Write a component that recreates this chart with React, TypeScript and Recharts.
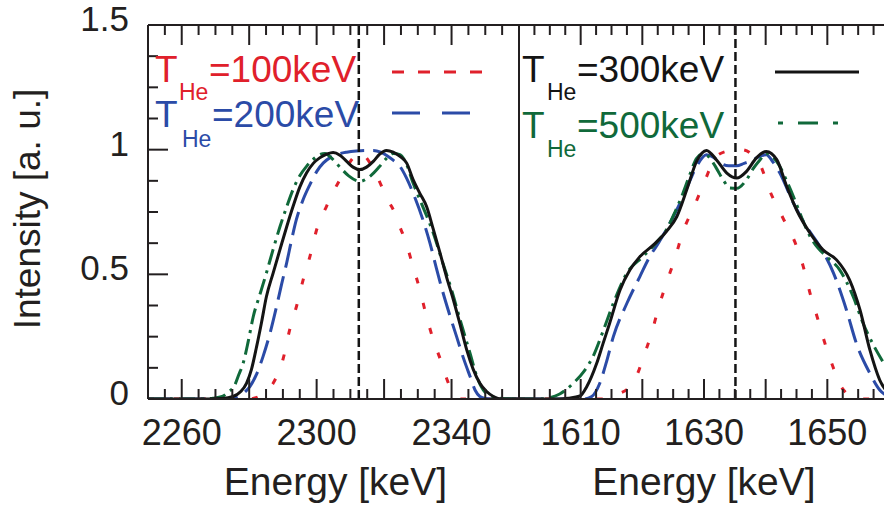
import React from 'react';
import { LineChart, Line, XAxis, YAxis, ReferenceLine } from 'recharts';

const FONT = '"Liberation Sans", Arial, Helvetica, sans-serif';
const INK = '#231f20';
const RED = '#e0202b';
const BLUE = '#2b4ba7';
const GREEN = '#10693a';
const BLACK = '#141414';

// ---------- Left panel (~2313 keV line) ----------
const left100E = [2250, 2280, 2282, 2284.5, 2287.1, 2290.1, 2292, 2294, 2296, 2298, 2300, 2302.9, 2304.9, 2306.9, 2308.9, 2310.8, 2312.5, 2314.3, 2315.8, 2317.7, 2319.7, 2321.5, 2323.2, 2324.7, 2326.2, 2328.6, 2330.6, 2332.6, 2334.6, 2337.1, 2338.6, 2340, 2341.5, 2343, 2360];
const left100I = [0, 0, 0.005, 0.025, 0.063, 0.163, 0.277, 0.37, 0.478, 0.571, 0.679, 0.772, 0.83, 0.88, 0.93, 0.967, 0.99, 0.975, 0.947, 0.9, 0.84, 0.79, 0.746, 0.69, 0.639, 0.531, 0.438, 0.33, 0.237, 0.143, 0.08, 0.036, 0.012, 0, 0];

const left200E = [2250, 2274, 2277, 2278.5, 2280.2, 2282.2, 2284.1, 2286.1, 2288.1, 2289.6, 2291.1, 2292.6, 2294, 2296, 2298, 2300, 2302, 2304, 2305.9, 2308.9, 2311.8, 2314.3, 2316.8, 2319, 2321, 2322.7, 2324.7, 2326.7, 2328.6, 2331.6, 2333.6, 2335.5, 2337.5, 2339.5, 2341.5, 2343.5, 2345.5, 2347, 2348.4, 2350, 2352, 2360];
const left200I = [0, 0, 0.01, 0.025, 0.05, 0.1, 0.17, 0.26, 0.37, 0.46, 0.545, 0.64, 0.72, 0.8, 0.86, 0.912, 0.947, 0.968, 0.98, 0.99, 0.995, 0.997, 0.997, 0.99, 0.975, 0.958, 0.933, 0.885, 0.826, 0.715, 0.625, 0.525, 0.425, 0.335, 0.25, 0.165, 0.09, 0.035, 0.01, 0.002, 0, 0];

const left300E = [2250, 2268, 2272, 2275.2, 2277.5, 2279.2, 2280.7, 2282.2, 2283.7, 2285.1, 2287.1, 2289.1, 2291.1, 2293, 2295, 2297, 2299, 2300.9, 2303, 2304.9, 2306.9, 2308.9, 2310.8, 2312.8, 2314.8, 2316.8, 2318.7, 2320.7, 2322.7, 2324.7, 2326.7, 2328.6, 2330.6, 2332.6, 2334.6, 2336.6, 2338.5, 2340.5, 2342.5, 2344.5, 2346.4, 2348.4, 2350.4, 2352.4, 2355, 2360];
const left300I = [0, 0, 0.002, 0.01, 0.03, 0.063, 0.12, 0.21, 0.31, 0.41, 0.505, 0.598, 0.69, 0.772, 0.85, 0.906, 0.945, 0.967, 0.982, 0.989, 0.978, 0.953, 0.93, 0.92, 0.93, 0.953, 0.982, 0.997, 0.99, 0.973, 0.946, 0.88, 0.825, 0.772, 0.68, 0.585, 0.49, 0.4, 0.3, 0.197, 0.12, 0.063, 0.03, 0.01, 0, 0];

const left500E = [2250, 2266, 2269.3, 2272, 2274, 2275.5, 2277, 2278.2, 2279.7, 2281.2, 2283.2, 2285.1, 2287.1, 2289.1, 2291.1, 2293, 2295, 2297, 2298.9, 2300.9, 2302.5, 2304.5, 2306.9, 2309.5, 2312.8, 2316, 2318.5, 2320.7, 2322.7, 2324.7, 2326.7, 2328.6, 2330.6, 2332.6, 2334.6, 2337.3, 2340, 2342.7, 2345.5, 2347.5, 2349.4, 2352, 2355, 2360];
const left500I = [0, 0, 0.003, 0.01, 0.03, 0.05, 0.1, 0.143, 0.23, 0.33, 0.42, 0.505, 0.6, 0.69, 0.77, 0.84, 0.895, 0.933, 0.96, 0.98, 0.985, 0.965, 0.93, 0.895, 0.873, 0.895, 0.93, 0.965, 0.985, 0.98, 0.94, 0.866, 0.8, 0.735, 0.665, 0.55, 0.438, 0.31, 0.183, 0.09, 0.036, 0.01, 0.002, 0];

// ---------- Right panel (~1635 keV line) ----------
const right100E = [1600, 1613.5, 1614.2, 1616, 1618, 1619.2, 1620.1, 1621.5, 1622.6, 1623.9, 1625.3, 1626.6, 1628.3, 1630.1, 1632, 1634, 1636.1, 1637.8, 1639.1, 1640.7, 1642.8, 1644.7, 1646.1, 1647.2, 1648.5, 1649.6, 1651, 1652, 1653.1, 1654, 1655, 1660];
const right100I = [0, 0, 0.005, 0.02, 0.05, 0.1, 0.163, 0.264, 0.364, 0.465, 0.565, 0.672, 0.766, 0.873, 0.973, 0.995, 1.0, 0.98, 0.94, 0.833, 0.726, 0.632, 0.531, 0.424, 0.317, 0.224, 0.123, 0.06, 0.023, 0.005, 0, 0];

const right200E = [1600, 1610.5, 1611.8, 1613.1, 1614.2, 1615.3, 1617.5, 1619.6, 1621.2, 1622.6, 1623.9, 1625.3, 1626.6, 1627.7, 1628.8, 1630.4, 1631.5, 1632.6, 1634, 1635.3, 1636.5, 1637.4, 1638.8, 1640.1, 1641.2, 1642.3, 1644.5, 1646.6, 1648.8, 1651, 1653.1, 1654.7, 1656.9, 1658.5, 1660];
const right200I = [0, 0, 0.01, 0.063, 0.15, 0.25, 0.384, 0.491, 0.571, 0.625, 0.679, 0.745, 0.812, 0.875, 0.933, 0.98, 0.97, 0.947, 0.935, 0.935, 0.945, 0.953, 0.97, 0.98, 0.95, 0.906, 0.786, 0.692, 0.612, 0.505, 0.357, 0.224, 0.103, 0.036, 0.008];

const right300E = [1600, 1606.5, 1608, 1609.9, 1611, 1612.6, 1613.6, 1614.7, 1616.4, 1618, 1619.6, 1621.8, 1623.9, 1625.6, 1627.2, 1628.8, 1630.4, 1632, 1633.7, 1635.3, 1636.9, 1638.5, 1640.1, 1641.8, 1643.4, 1645, 1647.2, 1649.3, 1651.5, 1653.6, 1655.3, 1656.9, 1658.5, 1660];
const right300I = [0, 0, 0.003, 0.012, 0.05, 0.143, 0.22, 0.304, 0.438, 0.518, 0.571, 0.618, 0.672, 0.732, 0.839, 0.953, 0.997, 0.96, 0.906, 0.886, 0.913, 0.967, 0.993, 0.96, 0.853, 0.759, 0.665, 0.598, 0.558, 0.478, 0.357, 0.197, 0.076, 0.02];

const right500E = [1600, 1603, 1604.7, 1606.6, 1608.8, 1610.5, 1612, 1613.6, 1615.3, 1617.5, 1620.1, 1622, 1623.9, 1625.3, 1626.6, 1627.7, 1628.8, 1630, 1631, 1632, 1633.2, 1634.2, 1635.3, 1636.9, 1638, 1639.1, 1640.1, 1641.2, 1642.3, 1643.4, 1644.5, 1645.8, 1647.2, 1648.5, 1649.9, 1652, 1654.2, 1655.8, 1657.4, 1659, 1660];
const right500I = [0, 0, 0.004, 0.02, 0.063, 0.11, 0.17, 0.27, 0.384, 0.505, 0.571, 0.62, 0.679, 0.75, 0.826, 0.9, 0.965, 0.985, 0.965, 0.926, 0.875, 0.846, 0.845, 0.88, 0.925, 0.96, 0.985, 0.97, 0.933, 0.875, 0.812, 0.73, 0.652, 0.605, 0.571, 0.518, 0.41, 0.304, 0.22, 0.15, 0.11];

// axis settings
const leftDomain = [2250, 2360];
const rightDomain = [1600, 1660];
const leftTickLabels = [2260, 2300, 2340];
const rightTickLabels = [1610, 1630, 1650];
const yTickLabels = [0, 0.5, 1, 1.5];
const yDomain = [0, 1.5];
const centerLines = [2312.5, 1635.1];

const leftMinorStep = 5;
const leftMajorStep = 20;
const rightMinorStep = 2.5;
const rightMajorStep = 10;
const yMinorStep = 0.125;
const yMajorStep = 0.5;

const makeTicks = (lo: number, hi: number, step: number) => {
  const out: number[] = [];
  for (let v = lo; v <= hi + 1e-9; v += step) out.push(Math.round(v * 1000) / 1000);
  return out;
};
const isMult = (v: number, step: number) => Math.abs(v / step - Math.round(v / step)) < 1e-6;

const zip = (e: number[], i: number[]) => e.map((x, k) => ({ e: x, i: i[k] }));

// layout
const PLOT_TOP = 25;
const PLOT_BOTTOM = 399;
const PLOT_H = PLOT_BOTTOM - PLOT_TOP;
const LEFT_PLOT_X0 = 148;
const SPLIT_X = 519;
const RIGHT_PLOT_X1 = 889;
const XAXIS_H = 513 - PLOT_BOTTOM;
const MAJOR_LEN = 20;
const MINOR_LEN = 10;

// linear position helpers matching the panels' plot areas (for frame tick marks)
const lin = (d0: number, d1: number, r0: number, r1: number) => (v: number) => r0 + ((v - d0) / (d1 - d0)) * (r1 - r0);
const sxLeft = lin(leftDomain[0], leftDomain[1], LEFT_PLOT_X0, SPLIT_X);
const sxRight = lin(rightDomain[0], rightDomain[1], SPLIT_X, RIGHT_PLOT_X1);
const sy = lin(yDomain[0], yDomain[1], PLOT_BOTTOM, PLOT_TOP);

const makeXLabel = (labels: number[]) => (props: any) => {
  const { x, y, payload } = props;
  const v = payload.value;
  if (!labels.includes(v)) return <g />;
  return (
    <text x={x} y={y + 46} textAnchor="middle" fontFamily={FONT} fontSize={36} fill={INK}>
      {v}
    </text>
  );
};

const YLabel = (props: any) => {
  const { x, y, payload } = props;
  const v = payload.value;
  if (!yTickLabels.includes(v)) return <g />;
  return (
    <text x={x - 19} y={y + 6} textAnchor="end" fontFamily={FONT} fontSize={35} fill={INK}>
      {String(v)}
    </text>
  );
};

const seriesStyles: Record<string, any> = {
  t100: { stroke: RED, strokeWidth: 3, strokeDasharray: '6 20' },
  t200: { stroke: BLUE, strokeWidth: 3, strokeDasharray: '24 9' },
  t500: { stroke: GREEN, strokeWidth: 3, strokeDasharray: '16 6 3 6' },
  t300: { stroke: BLACK, strokeWidth: 3 },
};

function Panel(props: {
  domain: number[];
  minorStep: number;
  labels: number[];
  center: number;
  showY: boolean;
  series: { key: string; data: { e: number; i: number }[] }[];
  width: number;
  marginRight: number;
}) {
  const xTicks = makeTicks(props.domain[0], props.domain[1], props.minorStep);
  const yTicks = makeTicks(yDomain[0], yDomain[1], yMinorStep);
  return (
    <LineChart
      width={props.width}
      height={513}
      margin={{ top: PLOT_TOP, right: props.marginRight, bottom: 0, left: 0 }}
    >
      {props.series.map((s) => (
        <Line
          key={s.key}
          data={s.data}
          dataKey="i"
          type="monotone"
          dot={false}
          isAnimationActive={false}
          {...seriesStyles[s.key]}
        />
      ))}
      <XAxis
        dataKey="e"
        type="number"
        domain={props.domain}
        allowDataOverflow
        ticks={xTicks}
        interval={0}
        tickSize={0}
        tickMargin={0}
        tickLine={false}
        axisLine={false}
        height={XAXIS_H}
        tick={makeXLabel(props.labels)}
      />
      <YAxis
        type="number"
        domain={yDomain}
        allowDataOverflow
        hide={!props.showY}
        width={LEFT_PLOT_X0}
        ticks={yTicks}
        interval={0}
        tickSize={0}
        tickMargin={0}
        tickLine={false}
        axisLine={false}
        tick={YLabel}
      />
      <ReferenceLine x={props.domain[0]} stroke={INK} strokeWidth={2} ifOverflow="visible" />
      <ReferenceLine x={props.domain[1]} stroke={INK} strokeWidth={2} ifOverflow="visible" />
      <ReferenceLine y={yDomain[0]} stroke={INK} strokeWidth={2} ifOverflow="visible" />
      <ReferenceLine y={yDomain[1]} stroke={INK} strokeWidth={2} ifOverflow="visible" />
      <ReferenceLine x={props.center} stroke={BLACK} strokeWidth={2.5} strokeDasharray="9 4" ifOverflow="visible" />
    </LineChart>
  );
}

function TickMarks() {
  const parts: React.ReactNode[] = [];
  const addX = (ticks: number[], majorStep: number, sx: (v: number) => number, tag: string) => {
    ticks.forEach((v, k) => {
      const len = isMult(v, majorStep) ? MAJOR_LEN : MINOR_LEN;
      const x = sx(v);
      parts.push(<line key={tag + 'b' + k} x1={x} y1={PLOT_BOTTOM} x2={x} y2={PLOT_BOTTOM - len} stroke={INK} strokeWidth={2} />);
      parts.push(<line key={tag + 't' + k} x1={x} y1={PLOT_TOP} x2={x} y2={PLOT_TOP + len} stroke={INK} strokeWidth={2} />);
    });
  };
  addX(makeTicks(leftDomain[0], leftDomain[1], leftMinorStep), leftMajorStep, sxLeft, 'L');
  addX(makeTicks(rightDomain[0], rightDomain[1], rightMinorStep), rightMajorStep, sxRight, 'R');
  makeTicks(yDomain[0], yDomain[1], yMinorStep).forEach((v, k) => {
    const len = isMult(v, yMajorStep) ? MAJOR_LEN : MINOR_LEN;
    const y = sy(v);
    parts.push(<line key={'Y' + k} x1={LEFT_PLOT_X0} y1={y} x2={LEFT_PLOT_X0 + len} y2={y} stroke={INK} strokeWidth={2} />);
  });
  return <g>{parts}</g>;
}

export default function App() {
  const leftSeries = [
    { key: 't100', data: zip(left100E, left100I) },
    { key: 't200', data: zip(left200E, left200I) },
    { key: 't500', data: zip(left500E, left500I) },
    { key: 't300', data: zip(left300E, left300I) },
  ];
  const rightSeries = [
    { key: 't100', data: zip(right100E, right100I) },
    { key: 't200', data: zip(right200E, right200I) },
    { key: 't500', data: zip(right500E, right500I) },
    { key: 't300', data: zip(right300E, right300I) },
  ];
  const legendFont = 37;
  const subFont = 23;
  return (
    <div style={{ position: 'absolute', left: 0, top: 0, width: 884, height: 513, overflow: 'hidden', background: '#fff' }}>
      <div style={{ position: 'absolute', left: 0, top: 0 }}>
        <Panel
          domain={leftDomain}
          minorStep={leftMinorStep}
          labels={leftTickLabels}
          center={centerLines[0]}
          showY
          series={leftSeries}
          width={SPLIT_X + 11}
          marginRight={11}
        />
      </div>
      <div style={{ position: 'absolute', left: SPLIT_X, top: 0 }}>
        <Panel
          domain={rightDomain}
          minorStep={rightMinorStep}
          labels={rightTickLabels}
          center={centerLines[1]}
          showY={false}
          series={rightSeries}
          width={380}
          marginRight={10}
        />
      </div>
      <svg width={884} height={513} style={{ position: 'absolute', left: 0, top: 0, pointerEvents: 'none' }}>
        <TickMarks />
        <g fontFamily={FONT}>
          <text x={40} y={209} transform="rotate(-90 40 209)" textAnchor="middle" fontSize={37} fill={INK}>
            Intensity [a. u.]
          </text>
          <text x={(LEFT_PLOT_X0 + SPLIT_X) / 2 + 2} y={495} textAnchor="middle" fontSize={39} fill={INK}>
            Energy [keV]
          </text>
          <text x={(SPLIT_X + RIGHT_PLOT_X1) / 2} y={495} textAnchor="middle" fontSize={39} fill={INK}>
            Energy [keV]
          </text>

          <text x={155} y={82} fontSize={legendFont} fill={RED}>T</text>
          <text x={179} y={100} fontSize={subFont} fill={RED}>He</text>
          <text x={209} y={82} fontSize={legendFont} fill={RED}>=100keV</text>
          <line x1={392} y1={72} x2={482} y2={72} stroke={RED} strokeWidth={3} strokeDasharray="12 14" />

          <text x={155} y={127} fontSize={legendFont} fill={BLUE}>T</text>
          <text x={182} y={147} fontSize={subFont} fill={BLUE}>He</text>
          <text x={212} y={127} fontSize={legendFont} fill={BLUE}>=200keV</text>
          <line x1={392} y1={113} x2={470} y2={113} stroke={BLUE} strokeWidth={3} strokeDasharray="28 22" />

          <text x={522} y={82} fontSize={legendFont} fill={BLACK}>T</text>
          <text x={547} y={100} fontSize={subFont} fill={BLACK}>He</text>
          <text x={577} y={82} fontSize={legendFont} fill={BLACK}>=300keV</text>
          <line x1={775} y1={72} x2={859} y2={72} stroke={BLACK} strokeWidth={3} />

          <text x={522} y={138} fontSize={legendFont} fill={GREEN}>T</text>
          <text x={547} y={157} fontSize={subFont} fill={GREEN}>He</text>
          <text x={577} y={138} fontSize={legendFont} fill={GREEN}>=500keV</text>
          <line x1={778} y1={123} x2={838} y2={123} stroke={GREEN} strokeWidth={3} strokeDasharray="5 15 20 15 5 100" />
        </g>
      </svg>
    </div>
  );
}
